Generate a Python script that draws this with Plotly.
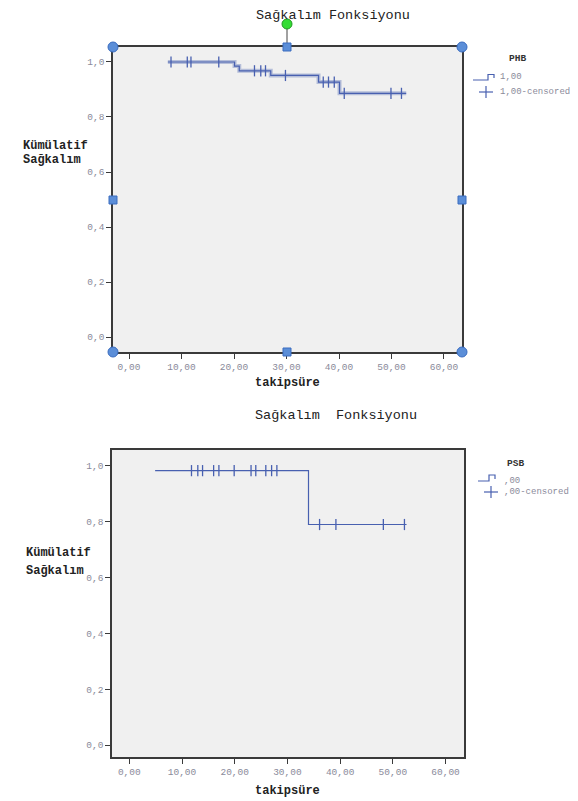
import plotly.graph_objects as go

# page window is 578x801; the browser body has an 8px margin, so the figure is 570x793
OX, OY = 8, 8
W, H = 570, 793

# ---------------- data ----------------
# Top chart (PHB = 1,00)
phb_start = 7.4
phb_event_t = [20.1, 21.0, 27.0, 36.1, 40.1]
phb_event_s = [0.985, 0.968, 0.951, 0.927, 0.886]
phb_end = 52.8
phb_censor_t = [8.0, 11.1, 11.8, 17.1, 23.9, 25.1, 26.0, 29.8, 37.0, 38.0, 39.1, 41.0, 49.9, 51.9]

# Bottom chart (PSB = ,00)
psb_start = 4.9
psb_start_s = 0.983
psb_event_t = [34.0]
psb_event_s = [0.79]
psb_end = 52.6
psb_censor_t = [11.8, 13.0, 13.9, 16.0, 17.0, 19.9, 23.1, 24.0, 25.9, 27.0, 28.0, 36.1, 39.2, 48.2, 52.2]

x_ticks = [0, 10, 20, 30, 40, 50, 60]
x_labels = ["0,00", "10,00", "20,00", "30,00", "40,00", "50,00", "60,00"]
y_ticks = [0.0, 0.2, 0.4, 0.6, 0.8, 1.0]
y_labels = ["0,0", "0,2", "0,4", "0,6", "0,8", "1,0"]


def step_xy(start, s0, ev_t, ev_s, end):
    xs = [start] + list(ev_t) + [end]
    ys = [s0] + list(ev_s) + [ev_s[-1]]
    return xs, ys


def surv_at(t, s0, ev_t, ev_s):
    s = s0
    for et, es in zip(ev_t, ev_s):
        if t >= et:
            s = es
    return s


LINE = "#4860b0"
MONO = "Liberation Mono"

fig = go.Figure()

# top
tx, ty = step_xy(phb_start, 1.0, phb_event_t, phb_event_s, phb_end)
fig.add_trace(go.Scatter(x=tx, y=ty, mode="lines", line=dict(color="rgba(72,96,176,0.35)", width=4, shape="hv"),
                         xaxis="x", yaxis="y", hoverinfo="skip", showlegend=False))
fig.add_trace(go.Scatter(x=tx, y=ty, mode="lines", line=dict(color=LINE, width=1.2, shape="hv"),
                         xaxis="x", yaxis="y", showlegend=False))
fig.add_trace(go.Scatter(x=phb_censor_t, y=[surv_at(t, 1.0, phb_event_t, phb_event_s) for t in phb_censor_t],
                         mode="markers", marker=dict(symbol="line-ns", size=8, line=dict(color=LINE, width=1.3)),
                         xaxis="x", yaxis="y", showlegend=False))

# bottom
bx, by = step_xy(psb_start, psb_start_s, psb_event_t, psb_event_s, psb_end)
fig.add_trace(go.Scatter(x=bx, y=by, mode="lines", line=dict(color=LINE, width=1.2, shape="hv"),
                         xaxis="x2", yaxis="y2", showlegend=False))
fig.add_trace(go.Scatter(x=psb_censor_t, y=[surv_at(t, psb_start_s, psb_event_t, psb_event_s) for t in psb_censor_t],
                         mode="markers", marker=dict(symbol="line-ns", size=8, line=dict(color=LINE, width=1.3)),
                         xaxis="x2", yaxis="y2", showlegend=False))


def px(x):
    return (x - OX) / W


def py(y):
    return 1 - (y - OY) / H


axis_common = dict(showline=True, linecolor="#3a3a3a", linewidth=1.5, mirror=True, ticks="outside",
                   ticklen=5, tickcolor="#3a3a3a", tickwidth=1.2, showgrid=False, zeroline=False,
                   tickfont=dict(family=MONO, size=9.5, color="#8a8a9a"))

fig.update_layout(
    width=W, height=H, margin=dict(l=0, r=0, t=0, b=0),
    paper_bgcolor="white", plot_bgcolor="#f0f0f0", showlegend=False,
    xaxis=dict(domain=[px(113), px(462)], range=[-3.05, 63.43], anchor="y",
               tickvals=x_ticks, ticktext=x_labels, **axis_common),
    yaxis=dict(domain=[py(352), py(47)], range=[-0.0545, 1.0545], anchor="x",
               tickvals=y_ticks, ticktext=y_labels, **axis_common),
    xaxis2=dict(domain=[px(112), px(464)], range=[-3.28, 63.5], anchor="y2",
                tickvals=x_ticks, ticktext=x_labels, **axis_common),
    yaxis2=dict(domain=[py(757), py(450)], range=[-0.043, 1.057], anchor="x2",
                tickvals=y_ticks, ticktext=y_labels, **axis_common),
)

anns = []


def txt(x, y, s, size=12, color="#222", xanchor="left", bold=False, family=MONO):
    if bold:
        s = "<b>" + s + "</b>"
    anns.append(dict(x=px(x), y=py(y), xref="paper", yref="paper", text=s, showarrow=False,
                     xanchor=xanchor, yanchor="middle", font=dict(family=family, size=size, color=color)))


# titles
txt(333, 16, "Sağkalım Fonksiyonu", size=13.5, xanchor="center")
txt(336, 415, "Sağkalım  Fonksiyonu", size=13.5, xanchor="center")
# y titles
txt(21, 146, "Kümülatif", size=12, bold=True)
txt(21, 160, "Sağkalım", size=12, bold=True)
txt(24, 553, "Kümülatif", size=12, bold=True)
txt(24, 571, "Sağkalım", size=12, bold=True)
# x titles
txt(287, 383, "takipsüre", size=12, xanchor="center", bold=True)
txt(287, 791, "takipsüre", size=12, xanchor="center", bold=True)

# legends
txt(517, 58, "PHB", size=9.5, xanchor="center", bold=True, color="#333")
txt(498, 77, "1,00", size=9, color="#8a8a9a")
txt(498, 92, "1,00-censored", size=9, color="#8a8a9a")
txt(515, 463, "PSB", size=9.5, xanchor="center", bold=True, color="#333")
txt(502, 481, ",00", size=9, color="#8a8a9a")
txt(502, 492, ",00-censored", size=9, color="#8a8a9a")

shapes = []


def pline(pts, color=LINE, width=1.2):
    path = "M " + " L ".join(f"{px(a)},{py(b)}" for a, b in pts)
    shapes.append(dict(type="path", xref="paper", yref="paper", path=path,
                       line=dict(color=color, width=width)))


# legend icons
pline([(473, 80), (488, 80), (488, 74.5), (494, 74.5), (494, 78)])
pline([(479, 92), (493, 92)])
pline([(486, 86), (486, 98)])
pline([(478, 481), (489, 481), (489, 475), (495, 475), (495, 479)])
pline([(484, 492), (498, 492)])
pline([(491, 486), (491, 498)])

# selection handles on top chart
HB = "#5b8ed8"
HBL = "#3a6cc0"
pline([(287, 28), (287, 47)], color="#444", width=1)
for (cx, cy) in [(113, 47), (462, 47), (113, 352), (462, 352)]:
    shapes.append(dict(type="circle", xref="paper", yref="paper", x0=px(cx - 5), x1=px(cx + 5),
                       y0=py(cy + 5), y1=py(cy - 5), fillcolor=HB, line=dict(color=HBL, width=1)))
for (cx, cy) in [(287, 47), (287, 352), (113, 200), (462, 200)]:
    shapes.append(dict(type="rect", xref="paper", yref="paper", x0=px(cx - 4), x1=px(cx + 4),
                       y0=py(cy + 4), y1=py(cy - 4), fillcolor=HB, line=dict(color=HBL, width=1)))
shapes.append(dict(type="circle", xref="paper", yref="paper", x0=px(282), x1=px(292),
                   y0=py(29), y1=py(19), fillcolor="#33dd33", line=dict(color="#229922", width=1)))

fig.update_layout(annotations=anns, shapes=shapes)
fig.write_html("out.html")
